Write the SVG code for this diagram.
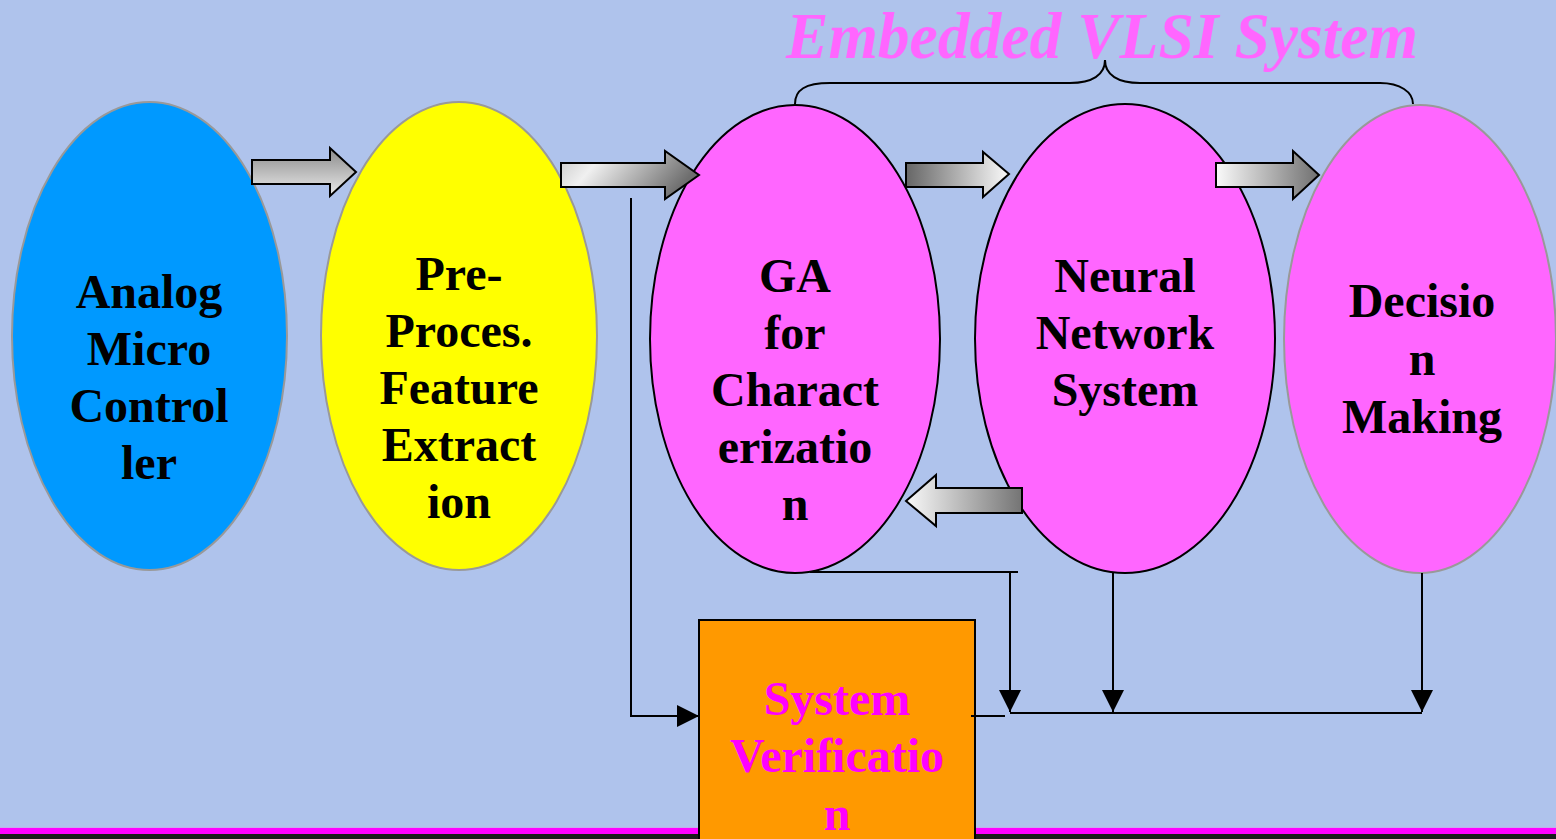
<svg xmlns="http://www.w3.org/2000/svg" width="1556" height="839" viewBox="0 0 1556 839">
<defs>
<style>
.lbl{font-family:"Liberation Serif","Times New Roman",serif;font-weight:bold;font-size:48px;fill:#000;text-anchor:middle}
.conn{stroke:#000;stroke-width:2;fill:none}
.blk{stroke:#000;stroke-width:2;stroke-linejoin:miter}
.gray{stroke:#999;stroke-width:2}
.dark{stroke:#000;stroke-width:2}
</style>
<marker id="ah" markerUnits="userSpaceOnUse" markerWidth="22" markerHeight="22" viewBox="0 0 20 20" refX="20" refY="10" orient="auto">
<path d="M0,0 L20,10 L0,20 Z" fill="#000"/>
</marker>
<linearGradient id="g1" x1="0" y1="0" x2="0" y2="1">
<stop offset="0" stop-color="#8a8a8a"/><stop offset="1" stop-color="#ececec"/>
</linearGradient>
<linearGradient id="g2" x1="0" y1="0" x2="1" y2="0.3">
<stop offset="0" stop-color="#c8c8c8"/><stop offset="0.3" stop-color="#f0f0f0"/><stop offset="1" stop-color="#6e6e6e"/>
</linearGradient>
<linearGradient id="g3" x1="0" y1="0" x2="1" y2="0">
<stop offset="0" stop-color="#666"/><stop offset="1" stop-color="#fafafa"/>
</linearGradient>
<linearGradient id="g4" x1="0" y1="0" x2="1" y2="0">
<stop offset="0" stop-color="#fafafa"/><stop offset="1" stop-color="#707070"/>
</linearGradient>
<linearGradient id="g5" x1="0" y1="0" x2="1" y2="0">
<stop offset="0" stop-color="#fafafa"/><stop offset="0.45" stop-color="#bdbdbd"/><stop offset="1" stop-color="#747474"/>
</linearGradient>
</defs>
<rect x="0" y="0" width="1556" height="839" fill="#AFC3EC"/>
<rect x="0" y="827" width="1556" height="1" fill="#c7a8f0"/>
<rect x="0" y="828" width="1556" height="6" fill="#FF00FF"/>
<rect x="0" y="834" width="1556" height="5" fill="#1a1a1a"/>

<g id="title">
<text x="1102" y="58" textLength="632" lengthAdjust="spacingAndGlyphs" style="font-family:'Liberation Serif','Times New Roman',serif;font-weight:bold;font-style:italic;font-size:65px;fill:#FF66FF;text-anchor:middle">Embedded VLSI System</text>
<path class="conn" d="M795,104 C795,90 805,83 830,83 L1070,83 C1092,83 1105,75 1105,60 C1105,75 1118,83 1140,83 L1380,83 C1400,83 1413,92 1413,104"/>
</g>

<g id="node-analog">
<ellipse cx="149.5" cy="336" rx="137.5" ry="234" fill="#0099FF" class="gray"/>
<text class="lbl" x="149" y="308">Analog</text>
<text class="lbl" x="149" y="365">Micro</text>
<text class="lbl" x="149" y="422">Control</text>
<text class="lbl" x="149" y="479">ler</text>
</g>

<g id="node-preproc">
<ellipse cx="459" cy="336" rx="138" ry="234" fill="#FFFF00" class="gray"/>
<text class="lbl" x="459" y="290">Pre-</text>
<text class="lbl" x="459" y="347">Proces.</text>
<text class="lbl" x="459" y="404">Feature</text>
<text class="lbl" x="459" y="461">Extract</text>
<text class="lbl" x="459" y="518">ion</text>
</g>

<g id="node-ga">
<ellipse cx="795" cy="339" rx="145" ry="234" fill="#FF66FF" class="dark"/>
<text class="lbl" x="795" y="292">GA</text>
<text class="lbl" x="795" y="349">for</text>
<text class="lbl" x="795" y="406">Charact</text>
<text class="lbl" x="795" y="463">erizatio</text>
<text class="lbl" x="795" y="520">n</text>
</g>

<g id="node-neural">
<ellipse cx="1125" cy="338.5" rx="150" ry="234.5" fill="#FF66FF" class="dark"/>
<text class="lbl" x="1125" y="292">Neural</text>
<text class="lbl" x="1125" y="349">Network</text>
<text class="lbl" x="1125" y="406">System</text>
</g>

<g id="node-decision">
<ellipse cx="1420" cy="339" rx="136" ry="234" fill="#FF66FF" class="gray"/>
<text class="lbl" x="1422" y="317">Decisio</text>
<text class="lbl" x="1422" y="375">n</text>
<text class="lbl" x="1422" y="433">Making</text>
</g>

<g id="connectors">
<path class="blk" fill="url(#g1)" d="M252,160 L330,160 L330,148 L356,172 L330,196 L330,184 L252,184 Z"/>
<path class="blk" fill="url(#g2)" d="M561,163 L665,163 L665,151 L699,175 L665,199 L665,187 L561,187 Z"/>
<path class="blk" fill="url(#g3)" d="M906,163 L983,163 L983,152 L1009,174 L983,197 L983,187 L906,187 Z"/>
<path class="blk" fill="url(#g4)" d="M1216,163 L1293,163 L1293,151 L1319,175 L1293,199 L1293,187 L1216,187 Z"/>
<path class="blk" fill="url(#g5)" d="M1022,488 L936,488 L936,475 L906,501 L936,526 L936,513 L1022,513 Z"/>

<path class="conn" d="M631,198 L631,716 L699,716" marker-end="url(#ah)"/>
<path class="conn" d="M810,572 L1018,572"/>
<path class="conn" d="M1010,572 L1010,712" marker-end="url(#ah)"/>
<path class="conn" d="M1113,573 L1113,712" marker-end="url(#ah)"/>
<path class="conn" d="M1422,573 L1422,712" marker-end="url(#ah)"/>
<path class="conn" d="M1010,713 L1422,713"/>
</g>

<g id="node-verification">
<rect x="699" y="620" width="276" height="230" fill="#FF9900" stroke="#000" stroke-width="2"/>
<text class="lbl" x="837" y="715" style="fill:#FF00FF">System</text>
<text class="lbl" x="837" y="772" style="fill:#FF00FF">Verificatio</text>
<text class="lbl" x="837" y="830" style="fill:#FF00FF">n</text>
</g>
<path class="conn" d="M971,716 L1005,716"/>
</svg>
